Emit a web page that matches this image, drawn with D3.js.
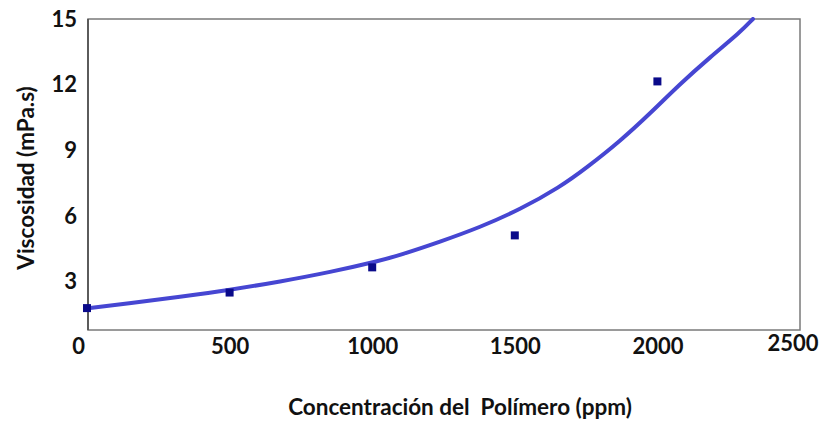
<!DOCTYPE html>
<html>
<head>
<meta charset="utf-8">
<script src="https://cdn.jsdelivr.net/npm/d3@7"></script>
<style>
  html, body { margin: 0; padding: 0; background: #fff; }
  svg { display: block; }
</style>
</head>
<body>
<svg id="chart" width="821" height="421"></svg>
<script>
// Data
const concentrations = [0, 500, 1000, 1500, 2000];
const viscosity = [1.80, 2.51, 3.66, 5.12, 12.15];
const fitConcentrations = [0, 151, 326, 501, 677, 852, 1027, 1097, 1238, 1378, 1518, 1658, 1753, 1869, 1974, 2079, 2184, 2290, 2335];
const fitViscosity = [1.79, 2.02, 2.32, 2.63, 3.01, 3.44, 3.96, 4.22, 4.83, 5.49, 6.30, 7.32, 8.22, 9.42, 10.68, 12.03, 13.25, 14.39, 15.0];
const xTicks = [0, 500, 1000, 1500, 2000, 2500];
const yTicks = [3, 6, 9, 12, 15];
const xTitle = "Concentración del  Polímero (ppm)";
const yTitle = "Viscosidad (mPa.s)";

(function () {
  const svg = d3.select("#chart");
  const pL = 88, pR = 800, pT = 19, pB = 330;

  const x = d3.scaleLinear().domain([0, 2500]).range([pL - 1, pR]);
  const y = d3.scaleLinear().domain([0.8, 15]).range([pB, pT]);

  const font = "Lato, 'Open Sans', sans-serif";

  svg.append("defs").append("clipPath").attr("id", "plotclip")
    .append("rect").attr("x", pL).attr("y", pT - 2).attr("width", pR - pL).attr("height", pB - pT + 2);

  // frame
  svg.append("rect")
    .attr("x", pL).attr("y", pT)
    .attr("width", pR - pL).attr("height", pB - pT)
    .attr("fill", "none").attr("stroke", "#7a7a7a").attr("stroke-width", 1.5);
  svg.append("line")
    .attr("x1", pL).attr("x2", pL).attr("y1", pT).attr("y2", pB)
    .attr("stroke", "#555").attr("stroke-width", 1.8);

  // y axis labels
  const yAxis = d3.axisLeft(y).tickValues(yTicks).tickSize(0).tickPadding(11);
  const gy = svg.append("g").attr("transform", `translate(${pL},0)`).call(yAxis);
  gy.select(".domain").remove();
  gy.selectAll("text").attr("font-family", font).attr("font-weight", 700)
    .attr("font-size", 22).attr("fill", "#111");

  // x axis labels
  const xAxis = d3.axisBottom(x).tickValues(xTicks).tickSize(0).tickPadding(8).tickFormat(d3.format("d"));
  const gx = svg.append("g").attr("transform", `translate(0,${pB})`).call(xAxis);
  gx.select(".domain").remove();
  gx.selectAll("text").attr("font-family", font).attr("font-weight", 700)
    .attr("font-size", 22).attr("fill", "#111");
  gx.selectAll("text").filter(d => d === xTicks[0]).attr("dx", -9);
  gx.selectAll("text").filter(d => d === xTicks[xTicks.length - 1])
    .attr("text-anchor", "end").attr("dx", 18).attr("dy", "0.6em");

  // fit curve
  const line = d3.line()
    .x((d, i) => x(fitConcentrations[i]))
    .y(d => y(d))
    .curve(d3.curveBasis);
  svg.append("path")
    .attr("clip-path", "url(#plotclip)")
    .attr("d", line(fitViscosity))
    .attr("fill", "none")
    .attr("stroke", "#4646d2")
    .attr("stroke-width", 4)
    .attr("stroke-linecap", "round");

  // data markers
  svg.append("g").selectAll("rect")
    .data(viscosity)
    .join("rect")
    .attr("x", (d, i) => x(concentrations[i]) - 4)
    .attr("y", d => y(d) - 4)
    .attr("width", 8).attr("height", 8)
    .attr("fill", "#0a0a8a");

  // titles
  svg.append("text")
    .attr("x", 460).attr("y", 415)
    .attr("text-anchor", "middle")
    .attr("font-family", font).attr("font-weight", 700).attr("font-size", 22.5)
    .attr("fill", "#111")
    .attr("xml:space", "preserve")
    .style("white-space", "pre")
    .text(xTitle);

  svg.append("text")
    .attr("transform", `translate(34,178) rotate(-90)`)
    .attr("text-anchor", "middle")
    .attr("font-family", font).attr("font-weight", 700).attr("font-size", 22.5)
    .attr("fill", "#111")
    .text(yTitle);
})();
</script>
</body>
</html>
